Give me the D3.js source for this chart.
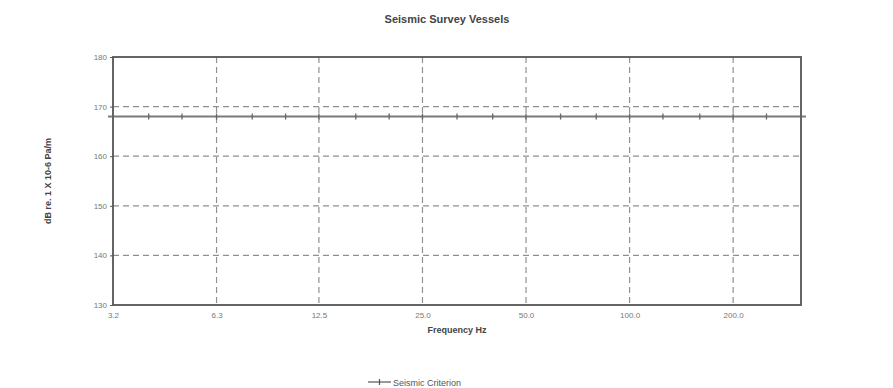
<!DOCTYPE html>
<html>
<head>
<meta charset="utf-8">
<script src="https://cdn.jsdelivr.net/npm/d3@7"></script>
<style>
body { margin: 0; background: #fff; }
text { font-family: Arial, "Liberation Sans", sans-serif; }
</style>
</head>
<body>
<div id="chart"></div>
<script>
// third-octave band centre frequencies
var bands = [3.15, 4, 5, 6.3, 8, 10, 12.5, 16, 20, 25, 31.5, 40, 50, 63, 80, 100, 125, 160, 200, 250, 315];
// criterion level at each band
var criterion = [168, 168, 168, 168, 168, 168, 168, 168, 168, 168, 168, 168, 168, 168, 168, 168, 168, 168, 168, 168, 168];
var xTicks = [3.15, 6.3, 12.5, 25, 50, 100, 200];
var xTickLabels = ["3.2", "6.3", "12.5", "25.0", "50.0", "100.0", "200.0"];
var yTicks = [130, 140, 150, 160, 170, 180];

var W = 893, H = 388;
// plot area (note: "top" clashes with window.top)
var pLeft = 113, pRight = 801, pTop = 57, pBottom = 305;

var svg = d3.select("#chart").append("svg").attr("width", W).attr("height", H);

var x = d3.scaleLog().base(2).domain([3.15, 315]).range([pLeft, pRight]);
var y = d3.scaleLinear().domain([130, 180]).range([pBottom, pTop]);

//grid lines
svg.selectAll(".hgrid").data(yTicks.slice(1, -1)).enter().append("line")
	.attr("x1", pLeft).attr("x2", pRight)
	.attr("y1", function (d) { return y(d); }).attr("y2", function (d) { return y(d); })
	.attr("stroke", "#909090").attr("stroke-width", 1.2).attr("stroke-dasharray", "6,4");
svg.selectAll(".vgrid").data(xTicks.slice(1)).enter().append("line")
	.attr("y1", pTop).attr("y2", pBottom)
	.attr("x1", function (d) { return x(d); }).attr("x2", function (d) { return x(d); })
	.attr("stroke", "#909090").attr("stroke-width", 1.2).attr("stroke-dasharray", "6,4");

// series (the original plot lets the line run a few px past the frame)
var line = d3.line().x(function (d, i) { return x(bands[i]); }).y(function (d) { return y(d); });
svg.append("path").datum(criterion).attr("d", line)
	.attr("fill", "none").attr("stroke", "#7a7a7a").attr("stroke-width", 2);
var first = criterion[0], last = criterion[criterion.length - 1];
svg.append("line").attr("x1", x(bands[0]) - 5).attr("x2", x(bands[0]))
	.attr("y1", y(first)).attr("y2", y(first)).attr("stroke", "#7a7a7a").attr("stroke-width", 2);
svg.append("line").attr("x1", x(bands[bands.length - 1])).attr("x2", x(bands[bands.length - 1]) + 5)
	.attr("y1", y(last)).attr("y2", y(last)).attr("stroke", "#7a7a7a").attr("stroke-width", 2);

// frame
svg.append("rect").attr("x", pLeft).attr("y", pTop).attr("width", pRight - pLeft).attr("height", pBottom - pTop)
	.attr("fill", "none").attr("stroke", "#555").attr("stroke-width", 1.8);

svg.selectAll(".mk").data(criterion).enter().append("line")
	.attr("x1", function (d, i) { return x(bands[i]); }).attr("x2", function (d, i) { return x(bands[i]); })
	.attr("y1", function (d) { return y(d) - 3; }).attr("y2", function (d) { return y(d) + 3; })
	.attr("stroke", "#666").attr("stroke-width", 1.3);

// axes
var yAxis = d3.axisLeft(y).tickValues(yTicks).tickSize(3).tickPadding(3);
var gy = svg.append("g").attr("transform", "translate(" + pLeft + ",0)").call(yAxis);
var xAxis = d3.axisBottom(x).tickValues(xTicks).tickSize(0).tickPadding(7)
	.tickFormat(function (d, i) { return xTickLabels[i]; });
var gx = svg.append("g").attr("transform", "translate(0," + pBottom + ")").call(xAxis);
[gx, gy].forEach(function (g) {
	g.select(".domain").remove();
	g.selectAll("text").attr("fill", "#777").style("font-size", "8px");
	g.selectAll("line").attr("stroke", "#555");
});

// titles
svg.append("text").attr("x", 447).attr("y", 23).attr("text-anchor", "middle")
	.style("font-size", "11px").style("font-weight", "bold").attr("fill", "#444")
	.text("Seismic Survey Vessels");
svg.append("text").attr("x", 457).attr("y", 333).attr("text-anchor", "middle")
	.style("font-size", "9px").style("font-weight", "bold").attr("fill", "#444")
	.text("Frequency Hz");
svg.append("text").attr("transform", "translate(51,181) rotate(-90)").attr("text-anchor", "middle")
	.style("font-size", "9px").style("font-weight", "bold").attr("fill", "#444")
	.text("dB re. 1 X 10-6 Pa/m");

// legend
svg.append("line").attr("x1", 368).attr("x2", 391).attr("y1", 382).attr("y2", 382)
	.attr("stroke", "#555").attr("stroke-width", 1.2);
svg.append("line").attr("x1", 379.5).attr("x2", 379.5).attr("y1", 379).attr("y2", 385)
	.attr("stroke", "#555").attr("stroke-width", 1.2);
svg.append("text").attr("x", 393).attr("y", 386)
	.style("font-size", "9px").attr("fill", "#555").text("Seismic Criterion");
</script>
</body>
</html>
